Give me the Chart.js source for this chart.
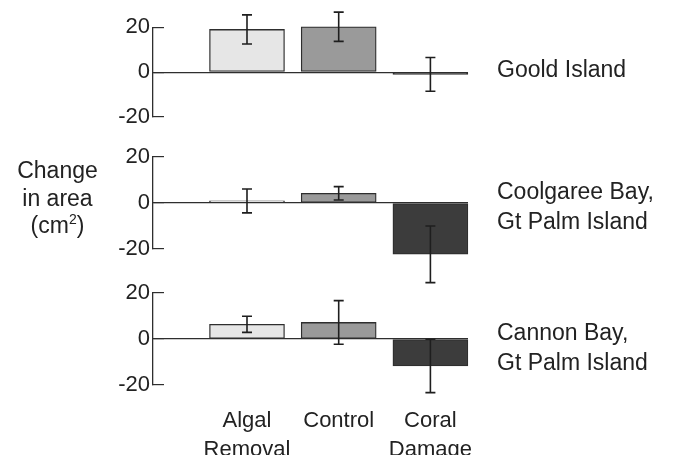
<!DOCTYPE html>
<html lang="en">
<head>
  <meta charset="UTF-8">
  <title>Change in area</title>
  <script src="https://cdn.jsdelivr.net/npm/chart.js"></script>
  <style>
    body {
      margin: 0;
      background: #fff;
      font-family: 'Liberation Sans', Arial, sans-serif;
      color: #222;
    }
    .wrap {
      position: relative;
      width: 678px;
      height: 462px;
      overflow: hidden;
    }
    canvas {
      position: absolute;
      left: 0;
      top: 0;
    }
    .site, .ytitle {
      position: absolute;
      font-size: 23px;
      white-space: nowrap;
    }
    .site {
      left: 497px;
      line-height: 30px;
    }
    .ytitle {
      left: 0;
      top: 157px;
      width: 115px;
      text-align: center;
      line-height: 27.5px;
    }
    .ytitle sup {
      font-size: 14px;
      line-height: 0;
      vertical-align: 9px;
    }
  </style>
</head>
<body>

<div class="wrap" id="wrap">
  <canvas id="panel1" width="678" height="462"></canvas>
  <canvas id="panel2" width="678" height="462"></canvas>
  <canvas id="panel3" width="678" height="462"></canvas>
  <div class="ytitle">Change<br>in area<br>(cm<sup>2</sup>)</div>
</div>

<script>
// treatments along the x axis
const categories = ['Algal Removal', 'Control', 'Coral Damage'];
const sites = ['Goold Island', 'Coolgaree Bay, Gt Palm Island', 'Cannon Bay, Gt Palm Island'];
const yTicks = [-20, 0, 20];

// mean change in area (cm2) and error bars, one pair per site
const gooldMeans = [19, 20.2, -1.0];
const gooldErrors = [6.5, 6.5, 7.5];
const coolgareeMeans = [0.9, 4.2, -22.3];
const coolgareeErrors = [5.2, 2.9, 12.3];
const cannonMeans = [6.4, 7.2, -11.7];
const cannonErrors = [3.5, 9.5, 11.6];

const barColors = ['#e6e6e6', '#9a9a9a', '#3c3c3c'];
const FONT = "'Liberation Sans', Arial, sans-serif";

// where each panel's plot area sits on the page (top of +20, bottom of -20)
const panelBox = [
  { top: 25, bottom: 117 },
  { top: 157, bottom: 249 },
  { top: 293, bottom: 385 }
];
const siteLabelTop = [54, 176, 317];

const errorBars = {
  id: 'errorBars',
  afterDatasetsDraw(chart) {
    const errs = chart.options.plugins.errorBars.errors;
    const x = chart.scales.x, y = chart.scales.y;
    const ctx = chart.ctx;
    const means = chart.data.datasets[0].data;
    ctx.save();
    ctx.strokeStyle = '#1e1e1e';
    ctx.lineWidth = 1.6;
    means.forEach((pt, i) => {
      const px = x.getPixelForValue(pt.x);
      const yTop = y.getPixelForValue(pt.y + errs[i]);
      const yBot = y.getPixelForValue(pt.y - errs[i]);
      ctx.beginPath();
      ctx.moveTo(px, yTop); ctx.lineTo(px, yBot);
      ctx.moveTo(px - 5, yTop); ctx.lineTo(px + 5, yTop);
      ctx.moveTo(px - 5, yBot); ctx.lineTo(px + 5, yBot);
      ctx.stroke();
    });
    ctx.restore();
  }
};

function makePanel(id, idx, means, errors, showX) {
  const box = panelBox[idx];
  const xAxisHeight = showX ? 70 : 0;
  new Chart(document.getElementById(id), {
    type: 'bar',
    data: {
      datasets: [{
        data: means.map((m, i) => ({ x: i + 1, y: m })),
        backgroundColor: barColors,
        borderColor: '#2e2e2e',
        borderWidth: 1.3,
        borderSkipped: false,
        barThickness: 75,
        clip: false
      }]
    },
    options: {
      responsive: false,
      animation: false,
      devicePixelRatio: 1,
      layout: {
        padding: {
          left: 113,
          right: 210,
          top: box.top,
          bottom: 462 - box.bottom - xAxisHeight
        }
      },
      plugins: {
        legend: { display: false },
        tooltip: { enabled: false },
        errorBars: { errors: errors }
      },
      scales: {
        x: {
          type: 'linear',
          min: -0.025,
          max: 3.41,
          offset: false,
          display: showX,
          grid: { display: false, drawTicks: false },
          border: { display: false },
          afterBuildTicks: s => { s.ticks = categories.map((c, i) => ({ value: i + 1 })); },
          afterFit: s => { s.height = xAxisHeight; },
          ticks: {
            padding: 22,
            maxRotation: 0,
            autoSkip: false,
            color: '#222',
            font: { family: FONT, size: 22, lineHeight: 1.3 },
            callback: v => categories[v - 1] ? categories[v - 1].split(' ') : ''
          }
        },
        y: {
          min: -20,
          max: 20,
          afterBuildTicks: s => { s.ticks = yTicks.map(v => ({ value: v })); },
          afterFit: s => { s.width = 40; },
          border: { display: true, color: '#2e2e2e', width: 1.3 },
          grid: {
            color: c => (c.tick && c.tick.value === 0) ? '#2e2e2e' : 'rgba(0,0,0,0)',
            tickColor: '#2e2e2e',
            lineWidth: 1.2,
            tickLength: -11
          },
          ticks: {
            padding: 14,
            color: '#222',
            font: { family: FONT, size: 22 }
          }
        }
      }
    },
    plugins: [errorBars]
  });
}

makePanel('panel1', 0, gooldMeans, gooldErrors, false);
makePanel('panel2', 1, coolgareeMeans, coolgareeErrors, false);
makePanel('panel3', 2, cannonMeans, cannonErrors, true);

// site names on the right of each panel
const wrap = document.getElementById('wrap');
sites.forEach((name, i) => {
  const div = document.createElement('div');
  div.className = 'site';
  div.style.top = siteLabelTop[i] + 'px';
  const parts = name.split(', ');
  div.innerHTML = parts.length > 1 ? parts[0] + ',<br>' + parts[1] : name;
  wrap.appendChild(div);
});
</script>
</body>
</html>
